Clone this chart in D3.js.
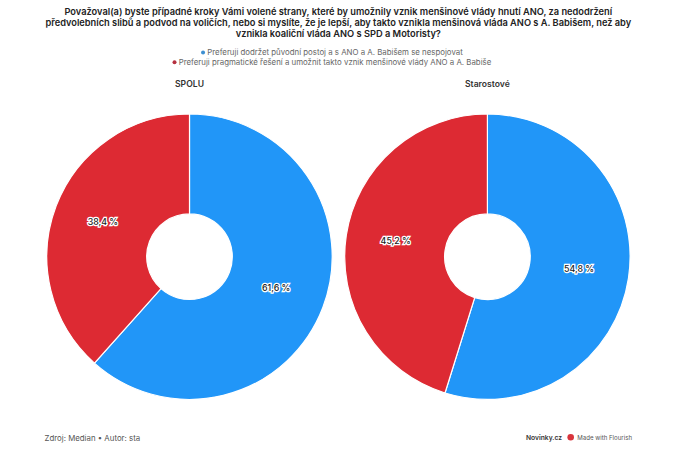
<!DOCTYPE html>
<html>
<head>
<meta charset="utf-8">
<script src="https://cdn.jsdelivr.net/npm/d3@7"></script>
<style>
  html, body { margin: 0; padding: 0; background: #fff; }
  text { font-family: Inter, "Noto Sans", sans-serif; }
</style>
</head>
<body>
<div id="chart"></div>
<script>
const titleLines = [
  "Považoval(a) byste případné kroky Vámi volené strany, které by umožnily vznik menšinové vlády hnutí ANO, za nedodržení",
  "předvolebních slibů a podvod na voličích, nebo si myslíte, že je lepší, aby takto vznikla menšinová vláda ANO s A. Babišem, než aby",
  "vznikla koaliční vláda ANO s SPD a Motoristy?"
];
const categories = [
  "Preferuji dodržet původní postoj a s ANO a A. Babišem se nespojovat",
  "Preferuji pragmatické řešení a umožnit takto vznik menšinové vlády ANO a A. Babiše"
];
const groups = ["SPOLU", "Starostové"];
const spoluValues = [61.6, 38.4];
const starostoveValues = [54.8, 45.2];
const colors = ["#2196f8", "#dd2a33"];

const width = 675, height = 450;
const radius = 142.7, innerRadius = 42.8;
const centers = [[189.5, 256.7], [487.4, 256.7]];

const svg = d3.select("#chart").append("svg")
  .attr("width", width)
  .attr("height", height)
  .style("display", "block");

svg.selectAll(".title")
  .data(titleLines)
  .enter().append("text")
  .attr("class", "title")
  .attr("x", 338.3)
  .attr("y", (d, i) => 15 + i * 11.2)
  .attr("text-anchor", "middle")
  .attr("font-size", 9.28)
  .attr("font-weight", 600)
  .attr("fill", "#222")
  .text(d => d);

// legend, each row centred on the text, dot hangs off the left
const legend = svg.selectAll(".legend")
  .data(categories)
  .enter().append("g")
  .attr("class", "legend");

legend.append("text")
  .attr("x", 335)
  .attr("y", (d, i) => 55 + i * 9.7)
  .attr("text-anchor", "middle")
  .attr("font-size", 7.85)
  .attr("fill", "#666")
  .text(d => d);

legend.append("circle")
  .attr("cx", function (d) {
    return 335 - this.parentNode.querySelector("text").getComputedTextLength() / 2 - 4.2;
  })
  .attr("cy", (d, i) => 52.6 + i * 9.7)
  .attr("r", 2)
  .attr("fill", (d, i) => ["#3d8fd1", "#b5303f"][i]);

const pie = d3.pie().sort(null);
const arc = d3.arc().innerRadius(innerRadius).outerRadius(radius);

[spoluValues, starostoveValues].forEach(function (values, k) {
  const g = svg.append("g")
    .attr("transform", "translate(" + centers[k][0] + "," + centers[k][1] + ")");

  const slices = pie(values);

  g.selectAll("path")
    .data(slices)
    .enter().append("path")
    .attr("d", arc)
    .attr("fill", (d, i) => colors[i])
    .attr("stroke", "#fff")
    .attr("stroke-width", 1.2);

  g.selectAll(".label")
    .data(slices)
    .enter().append("text")
    .attr("class", "label")
    .attr("transform", d => "translate(" + arc.centroid(d) + ")")
    .attr("dy", "0.1em")
    .attr("text-anchor", "middle")
    .attr("font-size", 8.8)
    .attr("font-weight", 500)
    .attr("fill", "#222")
    .attr("stroke", "#fff")
    .attr("stroke-width", 2.5)
    .attr("paint-order", "stroke")
    .text(d => String(d.data).replace(".", ",") + " %");

  svg.append("text")
    .attr("x", centers[k][0])
    .attr("y", 87.3)
    .attr("text-anchor", "middle")
    .attr("font-size", 8.6)
    .attr("font-weight", 600)
    .attr("fill", "#333")
    .text(groups[k]);
});

svg.append("text")
  .attr("x", 44.5)
  .attr("y", 441)
  .attr("font-size", 7.85)
  .attr("fill", "#555")
  .text("Zdroj: Median • Autor: sta");

svg.append("text")
  .attr("x", 526)
  .attr("y", 440)
  .attr("font-size", 6.7)
  .attr("font-weight", 600)
  .attr("fill", "#333")
  .text("Novinky.cz");

svg.append("circle")
  .attr("cx", 570.7)
  .attr("cy", 437.3)
  .attr("r", 3.3)
  .attr("fill", "#d8343c");

svg.append("text")
  .attr("x", 577.3)
  .attr("y", 440)
  .attr("font-size", 6.1)
  .attr("fill", "#555")
  .text("Made with Flourish");
</script>
</body>
</html>
